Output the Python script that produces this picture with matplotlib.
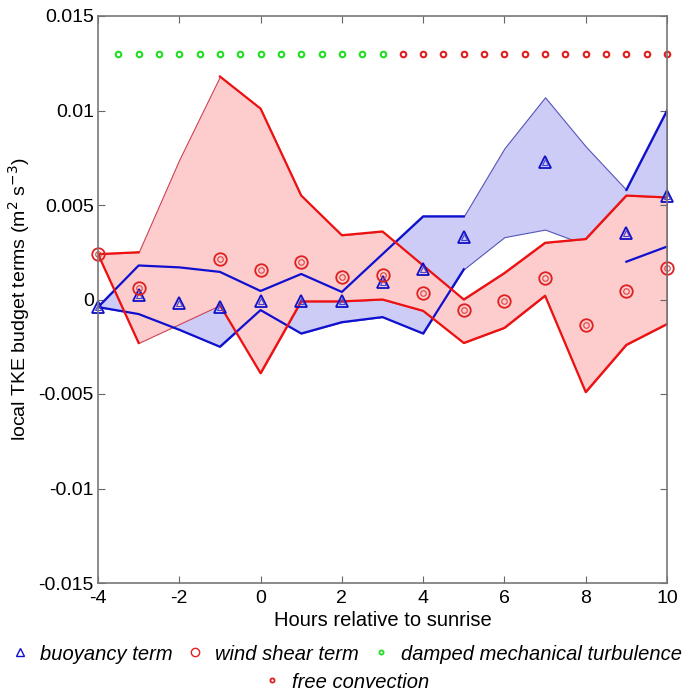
import numpy as np
import matplotlib.pyplot as plt
from matplotlib.lines import Line2D

plt.rcParams['font.family'] = ['Liberation Sans', 'DejaVu Sans']
plt.rcParams['axes.unicode_minus'] = False

#-------------------------------------------------------------------------------
# values
hours = np.arange(-4, 11)

buoy = np.array([-0.0004, 0.00024, -0.0002, -0.0004, -0.0001, -0.0001, -0.0001, 0.0009,
                 0.0016, 0.0033, np.nan, 0.0073, np.nan, 0.0035, 0.0055])
buoy_hi = np.array([-0.0004, 0.0018, 0.0017, 0.00146, 0.00045, 0.00135, 0.0004, 0.0024,
                    0.0044, 0.0044, 0.0080, 0.0107, 0.0081, 0.0058, 0.0100])
buoy_lo = np.array([-0.0004, -0.00077, -0.0016, -0.0025, -0.00056, -0.0018, -0.0012, -0.00093,
                    -0.0018, 0.0016, 0.0033, 0.0037, 0.0029, 0.0020, 0.0028])

shear = np.array([0.0024, 0.0006, np.nan, 0.00214, 0.00156, 0.00198, 0.00119, 0.0013,
                  0.00034, -0.00056, -0.0001, 0.00114, -0.00135, 0.00045, 0.00167])
shear_hi = np.array([0.0024, 0.0025, 0.0074, 0.0118, 0.0101, 0.0055, 0.0034, 0.0036,
                     0.0018, 0.0000, 0.0014, 0.0030, 0.0032, 0.0055, 0.0054])
shear_lo = np.array([0.0024, -0.0023, -0.0013, -0.0003, -0.0039, -0.0001, -0.0001, 0.0000,
                     -0.0006, -0.0023, -0.0015, 0.0002, -0.0049, -0.0024, -0.0013])

# regime flags along the top
damped_t = np.arange(-3.5, 3.01, 0.5)
free_t = np.arange(3.5, 10.01, 0.5)
flag_level = 0.013

#-------------------------------------------------------------------------------
fig = plt.figure(figsize=(6.92, 6.93), dpi=100)
ax = fig.add_axes([98/692, 1-583/693, (667-98)/692, (583-16)/693])

ax.fill_between(hours, buoy_lo, buoy_hi, facecolor='#ccccf7', edgecolor='#5555bb', linewidth=0.8)
ax.fill_between(hours, shear_lo, shear_hi, facecolor='#fdcccc', edgecolor='#cc4455', linewidth=0.8)

# thick lines only where the mean exists
ok_b = ~np.isnan(buoy)
ok_s = ~np.isnan(shear)
for arr in (buoy_hi, buoy_lo):
    ax.plot(hours, np.where(ok_b, arr, np.nan), color='#1010d0', lw=1.6)
for arr in (shear_hi, shear_lo):
    ax.plot(hours, np.where(ok_s, arr, np.nan), color='#ee1111', lw=1.6)

ax.plot(hours, buoy, ls='none', marker='^', ms=9, mfc='none', mec='#1010c8', mew=1.3, clip_on=False)
ax.plot(hours, buoy, ls='none', marker='^', ms=4, mfc='none', mec='#4444cc', mew=0.8, clip_on=False)
ax.plot(hours, shear, ls='none', marker='o', ms=9, mfc='none', mec='#e02020', mew=1.3, clip_on=False)
ax.plot(hours, shear, ls='none', marker='o', ms=4, mfc='none', mec='#e04040', mew=0.8, clip_on=False)

ax.plot(damped_t, np.full(len(damped_t), flag_level), ls='none', marker='o', ms=4,
        mfc='white', mec='#22dd22', mew=1.5, clip_on=False)
ax.plot(free_t, np.full(len(free_t), flag_level), ls='none', marker='o', ms=4,
        mfc='white', mec='#e02020', mew=1.5, clip_on=False)

ax.set_xlim(-4, 10)
ax.set_ylim(-0.015, 0.015)
ax.set_xticks(np.arange(-4, 11, 2))
ax.set_yticks([-0.015, -0.01, -0.005, 0, 0.005, 0.01, 0.015])
ax.set_yticklabels(['-0.015', '-0.01', '-0.005', '0', '0.005', '0.01', '0.015'])
ax.tick_params(direction='in', top=True, right=True, length=5, color='#666666',
               labelsize=14, pad=3)
ax.tick_params(axis='x', pad=5)
for s in ax.spines.values():
    s.set_color('#777777')
    s.set_linewidth(1.2)

ax.set_xlabel('Hours relative to sunrise', fontsize=14.5, labelpad=3)
ax.set_ylabel('local TKE budget terms (m$^2$ s$^{-3}$)', fontsize=14, labelpad=5)

h1 = Line2D([], [], ls='none', marker='^', ms=6, mfc='none', mec='#1010c8', mew=1)
h2 = Line2D([], [], ls='none', marker='o', ms=6, mfc='none', mec='#e02020', mew=1)
h3 = Line2D([], [], ls='none', marker='o', ms=3, mfc='white', mec='#22dd22', mew=1.3)
h4 = Line2D([], [], ls='none', marker='o', ms=3, mfc='white', mec='#e02020', mew=1.3)

fig.legend([h1, h2, h3], ['buoyancy term', 'wind shear term', 'damped mechanical turbulence'],
           loc='center', bbox_to_anchor=(0.5, 1-654/693), ncol=3, frameon=False,
           prop={'style': 'italic', 'size': 14.5}, handlelength=1.0, handletextpad=0.5,
           columnspacing=0.6, borderpad=0)
fig.legend([h4], ['free convection'], loc='center', bbox_to_anchor=(0.5, 1-682/693),
           frameon=False, prop={'style': 'italic', 'size': 14.5}, handlelength=1.0,
           handletextpad=0.5, borderpad=0)

fig.savefig('out.png', dpi=100)
